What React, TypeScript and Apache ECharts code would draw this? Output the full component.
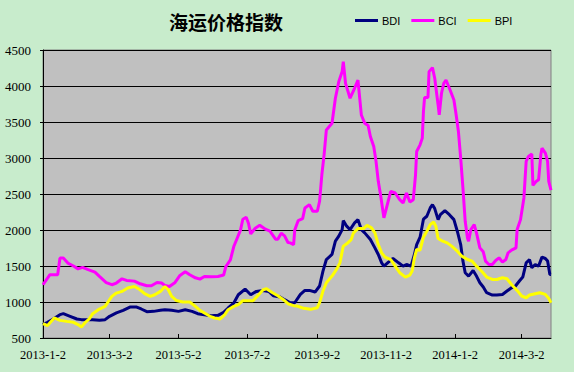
import React, { useEffect, useRef } from "react";
import * as echarts from "echarts";

const titleText = "海运价格指数";
const seriesNames = ["BDI", "BCI", "BPI"];
const seriesColors = ["#000080", "#FF00FF", "#FFFF00"];

// x = days since 2013-1-2
const tickDays = [0, 59, 120, 181, 243, 304, 365, 424];
const tickLabels = ["2013-1-2", "2013-3-2", "2013-5-2", "2013-7-2", "2013-9-2", "2013-11-2", "2014-1-2", "2014-3-2"];
const yTicks = [500, 1000, 1500, 2000, 2500, 3000, 3500, 4000, 4500];

const bdiData = [
  [0, 686], [4, 718], [9, 764], [15, 824], [18, 838], [24, 801], [30, 764], [34, 755], [39, 755], [44, 755],
  [50, 745], [55, 755], [59, 801], [65, 848], [71, 884], [77, 930], [83, 930], [87, 903], [92, 866], [98, 870],
  [104, 884], [108, 893], [114, 884], [120, 870], [126, 893], [132, 870], [137, 838], [143, 824], [149, 810], [155, 815],
  [160, 856], [164, 917], [169, 986], [173, 1101], [179, 1180], [184, 1101], [189, 1147], [195, 1161], [200, 1147], [204, 1087],
  [210, 1069], [214, 1032], [219, 990], [223, 990], [228, 1105], [232, 1161], [236, 1161], [241, 1138], [245, 1222], [248, 1429],
  [251, 1590], [256, 1660], [259, 1845], [262, 1914], [265, 2006], [266, 2130], [269, 2053], [272, 2006], [276, 2098], [279, 2144],
  [282, 2006], [285, 1960], [290, 1867], [294, 1752], [297, 1660], [300, 1544], [302, 1498], [306, 1554], [310, 1604], [315, 1544],
  [319, 1498], [322, 1521], [326, 1498], [329, 1660], [331, 1798], [334, 1900], [337, 2150], [340, 2191], [343, 2306], [345, 2352],
  [347, 2297], [350, 2144], [352, 2213], [356, 2269], [360, 2213], [364, 2144], [367, 1983], [370, 1798], [372, 1568], [374, 1406],
  [377, 1360], [381, 1438], [384, 1360], [387, 1267], [390, 1208], [393, 1129], [398, 1097], [402, 1097], [407, 1105], [411, 1152],
  [415, 1198], [418, 1212], [422, 1291], [425, 1346], [428, 1544], [431, 1590], [433, 1475], [436, 1521], [439, 1498], [442, 1623],
  [445, 1604], [447, 1568], [449, 1382], [450, 1382]
];

const bciData = [
  [0, 1240], [6, 1378], [13, 1378], [15, 1610], [18, 1610], [22, 1540], [27, 1500], [31, 1460], [35, 1480], [40, 1450],
  [46, 1415], [50, 1355], [56, 1270], [61, 1240], [65, 1263], [70, 1322], [74, 1300], [81, 1290], [86, 1253], [92, 1225],
  [96, 1225], [101, 1270], [105, 1263], [108, 1230], [112, 1216], [117, 1272], [121, 1364], [126, 1420], [130, 1378], [135, 1336],
  [139, 1318], [143, 1355], [149, 1350], [155, 1355], [160, 1374], [162, 1493], [166, 1586], [169, 1770], [172, 1886], [175, 2001],
  [177, 2150], [180, 2177], [182, 2094], [184, 1946], [188, 2025], [192, 2066], [197, 2011], [201, 1983], [206, 1873], [208, 1873],
  [211, 1956], [214, 1918], [217, 1826], [219, 1821], [222, 1798], [223, 2000], [226, 2130], [230, 2158], [232, 2306], [236, 2352],
  [239, 2260], [243, 2260], [245, 2399], [247, 2767], [249, 3044], [251, 3390], [256, 3483], [259, 3830], [262, 4060], [265, 4200],
  [266, 4338], [268, 4037], [272, 3830], [276, 3968], [279, 4083], [282, 3598], [285, 3483], [288, 3451], [290, 3299], [293, 3160],
  [295, 2953], [297, 2676], [299, 2490], [302, 2168], [305, 2352], [308, 2537], [312, 2514], [316, 2421], [319, 2375], [322, 2514],
  [325, 2389], [328, 2421], [330, 2767], [331, 3090], [334, 3183], [336, 3276], [337, 3645], [338, 3840], [341, 3840], [342, 4200],
  [345, 4255], [347, 4107], [350, 3737], [351, 3598], [353, 3899], [355, 4037], [357, 4083], [360, 3968], [364, 3806], [366, 3598],
  [368, 3368], [370, 2999], [372, 2583], [374, 2121], [376, 1890], [377, 1845], [379, 2006], [382, 2075], [384, 1960], [387, 1752],
  [390, 1697], [392, 1568], [395, 1521], [398, 1521], [401, 1576], [404, 1614], [407, 1554], [410, 1590], [412, 1683], [415, 1720],
  [419, 1752], [420, 2006], [423, 2144], [426, 2445], [428, 2953], [430, 3022], [433, 3054], [434, 2620], [437, 2676], [439, 2698],
  [441, 3044], [442, 3137], [445, 3067], [447, 2953], [448, 2676], [450, 2555]
];

const bpiData = [
  [0, 700], [4, 672], [6, 709], [10, 778], [15, 745], [21, 731], [27, 718], [31, 686], [34, 654], [37, 709],
  [41, 764], [44, 838], [49, 893], [55, 939], [58, 1008], [61, 1078], [65, 1124], [70, 1147], [75, 1194], [81, 1216],
  [86, 1170], [90, 1115], [95, 1078], [99, 1101], [104, 1147], [108, 1216], [111, 1170], [114, 1078], [118, 1022], [124, 1000],
  [130, 1000], [135, 939], [139, 884], [143, 848], [148, 801], [152, 778], [157, 764], [161, 824], [164, 893], [169, 939],
  [173, 963], [177, 1018], [182, 1018], [186, 1018], [191, 1101], [195, 1170], [198, 1184], [203, 1133], [208, 1087], [213, 1032],
  [217, 976], [222, 949], [225, 944], [231, 912], [237, 898], [243, 921], [245, 990], [248, 1152], [251, 1267], [256, 1360],
  [260, 1452], [263, 1544], [266, 1776], [269, 1808], [273, 1867], [275, 1960], [279, 2020], [284, 2020], [287, 2066], [291, 2029],
  [294, 1960], [297, 1798], [300, 1683], [303, 1623], [308, 1590], [312, 1498], [316, 1406], [321, 1346], [325, 1374], [327, 1429],
  [329, 1614], [331, 1729], [334, 1720], [337, 1900], [340, 1983], [343, 2075], [346, 2112], [348, 2053], [350, 1881], [353, 1853],
  [358, 1821], [362, 1776], [367, 1706], [371, 1637], [376, 1590], [380, 1568], [384, 1498], [389, 1420], [393, 1346], [398, 1313],
  [402, 1313], [407, 1337], [411, 1323], [415, 1244], [420, 1161], [424, 1083], [428, 1059], [431, 1097], [436, 1115], [440, 1129],
  [445, 1105], [448, 1050], [450, 990]
];

const allData = [bdiData, bciData, bpiData];

export default function App() {
  const ref = useRef<HTMLDivElement>(null);
  useEffect(() => {
    document.body.style.margin = "0";
    const chart = echarts.init(ref.current!, null, { renderer: "svg" });
    const serifFont = "'Liberation Serif', 'Times New Roman', serif";
    chart.setOption({
      animation: false,
      backgroundColor: "#C8ECCC",
      title: {
        text: titleText,
        left: 221,
        top: 7,
        textAlign: "center",
        textStyle: {
          fontFamily: "'Noto Sans CJK SC', sans-serif",
          fontSize: 19,
          fontWeight: "bold",
          color: "#000000",
        },
      },
      legend: {
        left: 350,
        top: 10,
        icon: "rect",
        itemWidth: 23,
        itemHeight: 3,
        itemGap: 11,
        data: seriesNames,
        textStyle: {
          fontFamily: "'Liberation Sans', Arial, sans-serif",
          fontSize: 11,
          color: "#000000",
          padding: [0, 0, 0, -1],
        },
      },
      grid: {
        left: 43,
        right: 23,
        top: 50,
        bottom: 34,
        show: true,
        backgroundColor: "#C0C0C0",
        borderColor: "#808080",
        borderWidth: 1,
      },
      xAxis: {
        type: "value",
        min: 0,
        max: 450,
        axisLine: { show: true, lineStyle: { color: "#000000", width: 1 } },
        axisTick: {
          show: true,
          inside: true,
          length: 4,
          customValues: tickDays,
          lineStyle: { color: "#000000" },
        },
        axisLabel: {
          customValues: tickDays,
          margin: 10,
          fontFamily: serifFont,
          fontSize: 12.5,
          color: "#000000",
          formatter: (v: number) => {
            const i = tickDays.indexOf(Math.round(v));
            return i >= 0 ? tickLabels[i] : "";
          },
        },
        splitLine: { show: false },
      },
      yAxis: {
        type: "value",
        min: yTicks[0],
        max: yTicks[yTicks.length - 1],
        interval: 500,
        axisLine: { show: true, lineStyle: { color: "#000000", width: 1 } },
        axisTick: { show: true, inside: false, length: 3, lineStyle: { color: "#000000" } },
        axisLabel: {
          margin: 12,
          fontFamily: serifFont,
          fontSize: 13,
          color: "#000000",
          formatter: (v: number) => String(v),
        },
        splitLine: { show: true, lineStyle: { color: "#000000", width: 1 } },
      },
      series: seriesNames.map((name, i) => ({
        name,
        type: "line",
        data: allData[i],
        showSymbol: false,
        symbol: "none",
        color: seriesColors[i],
        lineStyle: { color: seriesColors[i], width: 3 },
      })),
    });
    return () => chart.dispose();
  }, []);
  return <div ref={ref} style={{ width: 574, height: 372 }} />;
}
